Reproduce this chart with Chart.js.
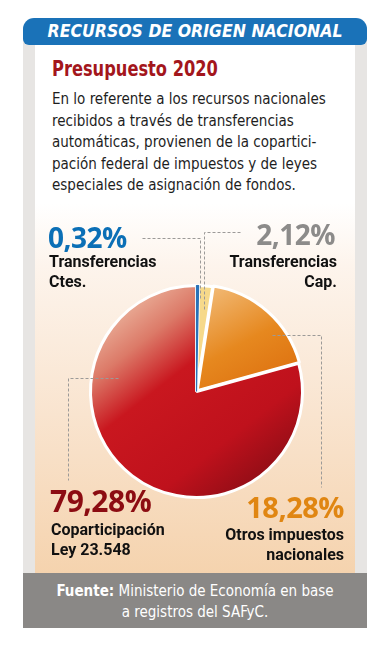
<!DOCTYPE html>
<html lang="es">
<head>
<meta charset="utf-8">
<title>Recursos de origen nacional</title>
<script src="https://cdn.jsdelivr.net/npm/chart.js@4.4.1/dist/chart.umd.min.js"></script>
<style>
  html, body { margin: 0; padding: 0; background: #fff; }
  body { width: 391px; height: 647px; position: relative; overflow: hidden; font-family: Roboto, "Noto Sans", sans-serif; }
  .abs { position: absolute; }
  .frame { left: 23px; top: 30px; width: 344px; height: 598px; background: #e7e5e3; }
  .inner { left: 35px; top: 45px; width: 320px; height: 528px;
    background: linear-gradient(to bottom, #ffffff 0%, #ffffff 30%, #fdf4ec 42%, #f9e4cf 70%, #f5d3ae 100%); }
  .header { left: 23px; top: 18px; width: 344px; height: 27px; background: #1a72b8; border-radius: 11px 11px 6px 6px;
    color: #fff; font: italic bold 17.5px "DejaVu Sans Condensed", sans-serif;
    text-align: center; line-height: 27px; }
  .title { left: 52px; top: 57px; color: #a3161c; font: bold 21px "DejaVu Sans Condensed", sans-serif;
    transform: scaleX(0.86); transform-origin: left top; white-space: nowrap; }
  .body { left: 52px; top: 89px; color: #1e1e1e; font: 15px/21.6px "DejaVu Sans Condensed", sans-serif; white-space: nowrap; }
  .pct { font-family: "Open Sans", sans-serif; font-weight: bold; font-size: 28px; line-height: 30px; letter-spacing: -0.5px; }
  .lbl { font-family: Roboto, sans-serif; font-weight: bold; font-size: 16px; line-height: 20px; color: #111; }
  .r { text-align: right; }
  .footer { left: 23px; top: 573px; width: 344px; height: 55px; background: #8a8886; color: #fff; text-align: center;
    font: 15px/21px "DejaVu Sans Condensed", sans-serif; padding-top: 8px; box-sizing: border-box; }
  canvas { position: absolute; left: 0; top: 0; }
</style>
</head>
<body>
<div class="abs frame"></div>
<div class="abs inner"></div>
<div class="abs header">RECURSOS DE ORIGEN NACIONAL</div>
<div class="abs title">Presupuesto 2020</div>
<div class="abs body">En lo referente a los recursos nacionales<br>recibidos a través de transferencias<br>automáticas, provienen de la copartici-<br>pación federal de impuestos y de leyes<br>especiales de asignación de fondos.</div>

<canvas id="pie" width="391" height="647"></canvas>

<div class="abs pct" style="left:48px; top:222px; color:#0b6fb6;" id="p3"></div>
<div class="abs lbl" style="left:49px; top:252px;">Transferencias<br>Ctes.</div>

<div class="abs pct r" style="right:56px; top:219px; color:#8c8b8a;" id="p0"></div>
<div class="abs lbl r" style="right:54px; top:252px;">Transferencias<br>&nbsp;Cap.</div>

<div class="abs pct r" style="right:47px; top:492px; color:#e08612; font-size:29px;" id="p1"></div>
<div class="abs lbl r" style="right:47px; top:525px;">Otros impuestos<br>nacionales</div>

<div class="abs pct" style="left:50px; top:486px; color:#8c0c12; font-size:30px;" id="p2"></div>
<div class="abs lbl" style="left:51px; top:520px;">Coparticipación<br>Ley 23.548</div>

<div class="abs footer"><b>Fuente:</b> Ministerio de Economía en base<br>a registros del SAFyC.</div>

<script>
// Recursos de origen nacional, % del total.
// Order is the drawing order: the tiny "Ctes." slice goes last so it sits on top,
// and the pie is rotated so that it still ends up right at 12 o'clock.
const categories = ['Transferencias Cap.', 'Otros impuestos nacionales', 'Coparticipación Ley 23.548', 'Transferencias Ctes.'];
const shares = [2.12, 18.28, 79.28, 0.32];
const shareLabels = ['2,12%', '18,28%', '79,28%', '0,32%'];

shareLabels.forEach((t, i) => { document.getElementById('p' + i).textContent = t; });

const total = shares.reduce((a, b) => a + b, 0);
const startRotation = shares[shares.length - 1] / total * 360;

// leader lines: anchor inside slice (fraction of angle, fraction of radius) -> elbow -> end
const leaders = [
  { f: 0.5,  r: 0.78, elbowY: 232, endX: 240 },
  { f: 0.67, r: 0.89, elbowX: 321, endY: 487 },
  { f: 0.72, r: 0.75, elbowX: 68,  endY: 480 },
  { f: 1.0,  r: 0.88, elbowY: 238, endX: 142, dx: 2 }
];

function sliceFill(context) {
  const i = context.dataIndex;
  const chart = context.chart;
  const a = chart.chartArea;
  const ctx = chart.ctx;
  if (i === 3) return '#2a72b8';
  if (i === 0) return '#f6d98a';
  if (!a) return i === 1 ? '#e07a12' : '#c4121e';
  const cx = (a.left + a.right) / 2, cy = (a.top + a.bottom) / 2;
  if (i === 1) {
    const g = ctx.createLinearGradient(cx + 10, a.top + 10, cx + 70, cy + 10);
    g.addColorStop(0, '#f1b873');
    g.addColorStop(0.5, '#e6881f');
    g.addColorStop(1, '#dc6d0d');
    return g;
  }
  const g = ctx.createLinearGradient(a.left + 20, a.top + 15, a.right - 40, a.bottom);
  g.addColorStop(0, '#f0c6ae');
  g.addColorStop(0.22, '#dc7a68');
  g.addColorStop(0.4, '#c9171f');
  g.addColorStop(0.72, '#bf111c');
  g.addColorStop(1, '#820c14');
  return g;
}

const leaderPlugin = {
  id: 'leaders',
  afterDatasetsDraw(chart) {
    const ctx = chart.ctx;
    const arcs = chart.getDatasetMeta(0).data;
    ctx.save();
    ctx.strokeStyle = '#9c9a98';
    ctx.lineWidth = 1;
    ctx.setLineDash([3, 2]);
    arcs.forEach((arc, i) => {
      const L = leaders[i];
      const p = arc.getProps(['x', 'y', 'startAngle', 'endAngle', 'outerRadius'], true);
      const ang = p.startAngle + (p.endAngle - p.startAngle) * L.f;
      const ax = Math.round(p.x + Math.cos(ang) * p.outerRadius * L.r + (L.dx || 0)) + 0.5;
      const ay = Math.round(p.y + Math.sin(ang) * p.outerRadius * L.r) + 0.5;
      ctx.beginPath();
      ctx.moveTo(ax, ay);
      if (L.elbowY !== undefined) {
        ctx.lineTo(ax, L.elbowY + 0.5);
        ctx.lineTo(L.endX + 0.5, L.elbowY + 0.5);
      } else {
        ctx.lineTo(L.elbowX + 0.5, ay);
        ctx.lineTo(L.elbowX + 0.5, L.endY + 0.5);
      }
      ctx.stroke();
    });
    ctx.restore();
  }
};

new Chart(document.getElementById('pie'), {
  type: 'pie',
  data: {
    labels: categories,
    datasets: [{
      data: shares,
      backgroundColor: sliceFill,
      borderColor: ['#ffffff', '#ffffff', '#ffffff', '#2a72b8'],
      borderWidth: [3, 3, 3, 1.2],
      offset: [0, 4, 0, 0],
      hoverOffset: 0
    }]
  },
  options: {
    responsive: false,
    animation: false,
    events: [],
    rotation: startRotation,
    layout: { padding: { left: 87, right: 85, top: 282, bottom: 146 } },
    plugins: { legend: { display: false }, tooltip: { enabled: false } }
  },
  plugins: [leaderPlugin]
});
</script>
</body>
</html>
